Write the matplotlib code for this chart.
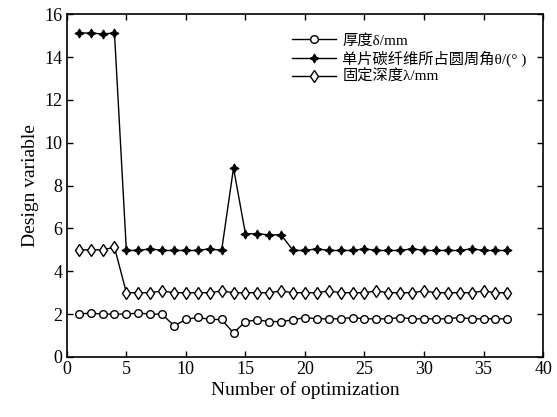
import matplotlib
matplotlib.use("Agg")
import matplotlib.pyplot as plt

x = list(range(1, 38))
thickness = [2.0, 2.05, 2.0, 2.0, 2.0, 2.05, 2.0, 2.0, 1.45, 1.75, 1.85, 1.75, 1.75, 1.12, 1.65,
             1.73, 1.65, 1.65, 1.73, 1.84, 1.78, 1.78, 1.78, 1.84, 1.78, 1.78, 1.78, 1.84, 1.78,
             1.78, 1.78, 1.78, 1.84, 1.78, 1.78, 1.78, 1.78]
angle = [15.12, 15.12, 15.08, 15.12, 4.97, 4.97, 5.05, 4.97, 4.97, 4.97, 4.97, 5.05, 4.97, 8.82,
         5.75, 5.75, 5.7, 5.7, 4.97, 4.97, 5.05, 4.97, 4.97, 4.97, 5.05, 4.97, 4.97, 4.97, 5.05,
         4.97, 4.97, 4.97, 4.97, 5.05, 4.97, 4.97, 4.97]
depth = [5.0, 5.0, 5.0, 5.12, 3.0, 3.0, 3.0, 3.08, 3.0, 3.0, 3.0, 3.0, 3.08, 3.0, 3.0, 3.0, 3.0,
         3.08, 3.0, 3.0, 3.0, 3.08, 3.0, 3.0, 3.0, 3.08, 3.0, 3.0, 3.0, 3.08, 3.0, 3.0, 3.0, 3.0,
         3.08, 3.0, 3.0]
labels = ["厚度δ/mm", "单片碳纤维所占圆周角θ/(° )", "固定深度λ/mm"]
xticks = [0, 5, 10, 15, 20, 25, 30, 35, 40]
yticks = [0, 2, 4, 6, 8, 10, 12, 14, 16]

plt.rcParams['font.family'] = ['Liberation Serif', 'Noto Sans CJK SC']

fig = plt.figure(figsize=(5.57, 4.17), dpi=100)
ax = fig.add_axes([0.120, 0.144, 0.855, 0.822])

ax.plot(x, thickness, color='black', lw=1.0, marker='o', ms=5.5, mfc='white', mec='black', mew=1.0,
        label=labels[0])
ax.plot(x, angle, color='black', lw=1.0, marker=(4, 1, 0), ms=6.5, mfc='black', mec='black', mew=0.8,
        label=labels[1])
ax.plot(x, depth, color='black', lw=1.0, marker='d', ms=6.5, mfc='white', mec='black', mew=1.0,
        label=labels[2])

ax.set_xlim(0, 40)
ax.set_ylim(0, 16)
ax.set_xticks(xticks)
ax.set_yticks(yticks)
ax.tick_params(direction='in', top=True, right=True, labelsize=13, length=4, width=1, pad=3)
for s in ax.spines.values():
    s.set_linewidth(1.2)
ax.set_xlabel("Number of optimization", fontsize=14, labelpad=2)
ax.set_ylabel("Design variable", fontsize=14, labelpad=4)

leg = ax.legend(loc='upper right', bbox_to_anchor=(0.985, 0.97), frameon=False, fontsize=11,
                handlelength=2.9, handletextpad=0.4, labelspacing=0.2, borderaxespad=0.2)

fig.savefig("out.png", dpi=100)
